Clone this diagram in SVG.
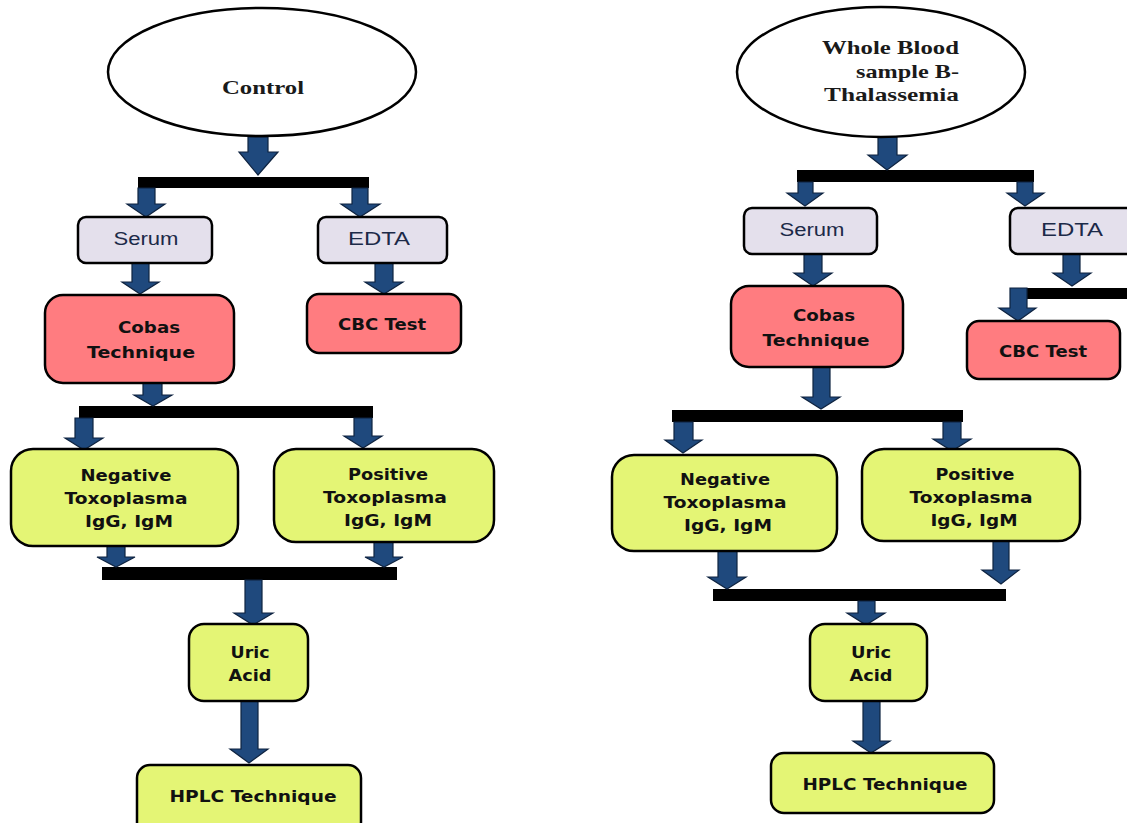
<svg xmlns="http://www.w3.org/2000/svg" width="1127" height="823" viewBox="0 0 1127 823">
<style>
.ell{fill:#fff;stroke:#000;stroke-width:2.5}
.box{stroke:#000;stroke-width:2.5}
.lav{fill:#e4e0ec}
.pink{fill:#ff7c80}
.yel{fill:#e4f575}
.arr{fill:#1f497d;stroke:#0e2340;stroke-width:1.2;stroke-linejoin:miter}
.bar{fill:#000}
.tt{font-family:"Liberation Serif","Times New Roman",serif;font-weight:bold;font-size:19px;fill:#1a1a1a}
.ts{font-family:"Liberation Sans",Arial,sans-serif;font-size:18px;fill:#1c2a48;text-anchor:middle}
.tb{font-family:"DejaVu Sans",Verdana,sans-serif;font-weight:bold;font-size:16px;fill:#111;text-anchor:middle}
</style>
<rect width="1127" height="823" fill="#fff"/>

<g id="connectors">
<!-- left column -->
<rect class="bar" x="138" y="177" width="231" height="11"/>
<rect class="bar" x="79" y="406" width="294" height="12"/>
<rect class="bar" x="102" y="567" width="295" height="13"/>
<path class="arr" d="M248 137H268V152H278L258 175L239 152H248Z"/>
<path class="arr" d="M138 188H155V204H165L146 217L127 204H138Z"/>
<path class="arr" d="M352 188H368V204H380L360 217L341 204H352Z"/>
<path class="arr" d="M132 263H149V282H159L140 294L122 282H132Z"/>
<path class="arr" d="M375 263H393V282H403L384 294L365 282H375Z"/>
<path class="arr" d="M143 383H162V395H172L153 406L134 395H143Z"/>
<path class="arr" d="M75 418H93V438H103L84 450L65 438H75Z"/>
<path class="arr" d="M354 418H372V436H382L363 448L344 436H354Z"/>
<path class="arr" d="M107 546H125V557H135L116 567L97 557H107Z"/>
<path class="arr" d="M374 542H393V557H403L384 567L365 557H374Z"/>
<path class="arr" d="M245 580H262V613H273L253 625L234 613H245Z"/>
<path class="arr" d="M241 701H258V749H268L249 763L230 749H241Z"/>
<!-- right column -->
<rect class="bar" x="797" y="170" width="237" height="12"/>
<rect class="bar" x="1010" y="288" width="120" height="11"/>
<rect class="bar" x="672" y="410" width="291" height="12"/>
<rect class="bar" x="713" y="589" width="293" height="12"/>
<path class="arr" d="M878 137H897V155H907L887 170L868 155H878Z"/>
<path class="arr" d="M798 182H813V193H823L805 206L787 193H798Z"/>
<path class="arr" d="M1017 182H1033V193H1044L1025 206L1007 193H1017Z"/>
<path class="arr" d="M804 254H822V273H832L813 286L794 273H804Z"/>
<path class="arr" d="M1063 254H1080V273H1091L1072 286L1053 273H1063Z"/>
<path class="arr" d="M1010 288H1027V308H1036L1018 321L999 308H1010Z"/>
<path class="arr" d="M813 367H830V397H840L821 409L802 397H813Z"/>
<path class="arr" d="M674 422H693V440H702L683 453L665 440H674Z"/>
<path class="arr" d="M943 422H961V439H971L952 451L933 439H943Z"/>
<path class="arr" d="M718 551H737V577H746L727 589L708 577H718Z"/>
<path class="arr" d="M993 541H1009V570H1019L1001 584L982 570H993Z"/>
<path class="arr" d="M858 601H875V613H885L866 625L847 613H858Z"/>
<path class="arr" d="M863 701H880V741H890L871 753L853 741H863Z"/>
</g>

<!-- left column nodes -->
<g id="control">
<ellipse class="ell" cx="262" cy="72" rx="154" ry="64"/>
<text class="tt" x="222" y="94" textLength="82" lengthAdjust="spacingAndGlyphs">Control</text>
</g>
<g id="serum-l">
<rect class="box lav" x="78" y="217" width="134" height="46" rx="8"/>
<text class="ts" x="146" y="245" textLength="65" lengthAdjust="spacingAndGlyphs">Serum</text>
</g>
<g id="edta-l">
<rect class="box lav" x="318" y="217" width="129" height="46" rx="8"/>
<text class="ts" x="379" y="245" textLength="62" lengthAdjust="spacingAndGlyphs">EDTA</text>
</g>
<g id="cobas-l">
<rect class="box pink" x="45" y="295" width="189" height="88" rx="18"/>
<text class="tb" x="149" y="333" textLength="62" lengthAdjust="spacingAndGlyphs">Cobas</text>
<text class="tb" x="141" y="358" textLength="108" lengthAdjust="spacingAndGlyphs">Technique</text>
</g>
<g id="cbc-l">
<rect class="box pink" x="307" y="294" width="154" height="59" rx="12"/>
<text class="tb" x="382" y="330" textLength="88" lengthAdjust="spacingAndGlyphs">CBC Test</text>
</g>
<g id="negative-l">
<rect class="box yel" x="11" y="449" width="227" height="97" rx="22"/>
<text class="tb" x="126" y="481" textLength="91" lengthAdjust="spacingAndGlyphs">Negative</text>
<text class="tb" x="126" y="504" textLength="123" lengthAdjust="spacingAndGlyphs">Toxoplasma</text>
<text class="tb" x="129" y="527" textLength="88" lengthAdjust="spacingAndGlyphs">IgG, IgM</text>
</g>
<g id="positive-l">
<rect class="box yel" x="274" y="449" width="220" height="93" rx="22"/>
<text class="tb" x="388" y="480" textLength="80" lengthAdjust="spacingAndGlyphs">Positive</text>
<text class="tb" x="385" y="503" textLength="124" lengthAdjust="spacingAndGlyphs">Toxoplasma</text>
<text class="tb" x="388" y="526" textLength="88" lengthAdjust="spacingAndGlyphs">IgG, IgM</text>
</g>
<g id="uric-l">
<rect class="box yel" x="189" y="624" width="119" height="77" rx="15"/>
<text class="tb" x="250" y="658" textLength="39" lengthAdjust="spacingAndGlyphs">Uric</text>
<text class="tb" x="250" y="681" textLength="43" lengthAdjust="spacingAndGlyphs">Acid</text>
</g>
<g id="hplc-l">
<rect class="box yel" x="137" y="765" width="224" height="70" rx="13"/>
<text class="tb" x="253" y="802" textLength="167" lengthAdjust="spacingAndGlyphs">HPLC Technique</text>
</g>

<!-- right column nodes -->
<g id="whole-blood">
<ellipse class="ell" cx="881" cy="72" rx="144" ry="65"/>
<text class="tt" x="959" y="54" text-anchor="end" textLength="137" lengthAdjust="spacingAndGlyphs">Whole Blood</text>
<text class="tt" x="959" y="78" text-anchor="end" textLength="103" lengthAdjust="spacingAndGlyphs">sample B-</text>
<text class="tt" x="959" y="101" text-anchor="end" textLength="135" lengthAdjust="spacingAndGlyphs">Thalassemia</text>
</g>
<g id="serum-r">
<rect class="box lav" x="744" y="208" width="133" height="46" rx="8"/>
<text class="ts" x="812" y="236" textLength="65" lengthAdjust="spacingAndGlyphs">Serum</text>
</g>
<g id="edta-r">
<rect class="box lav" x="1010" y="208" width="130" height="46" rx="8"/>
<text class="ts" x="1072" y="236" textLength="62" lengthAdjust="spacingAndGlyphs">EDTA</text>
</g>
<g id="cobas-r">
<rect class="box pink" x="731" y="286" width="172" height="81" rx="18"/>
<text class="tb" x="824" y="321" textLength="62" lengthAdjust="spacingAndGlyphs">Cobas</text>
<text class="tb" x="816" y="346" textLength="107" lengthAdjust="spacingAndGlyphs">Technique</text>
</g>
<g id="cbc-r">
<rect class="box pink" x="967" y="321" width="153" height="58" rx="12"/>
<text class="tb" x="1043" y="357" textLength="88" lengthAdjust="spacingAndGlyphs">CBC Test</text>
</g>
<g id="negative-r">
<rect class="box yel" x="612" y="455" width="225" height="96" rx="22"/>
<text class="tb" x="725" y="485" textLength="90" lengthAdjust="spacingAndGlyphs">Negative</text>
<text class="tb" x="725" y="508" textLength="123" lengthAdjust="spacingAndGlyphs">Toxoplasma</text>
<text class="tb" x="728" y="531" textLength="88" lengthAdjust="spacingAndGlyphs">IgG, IgM</text>
</g>
<g id="positive-r">
<rect class="box yel" x="862" y="449" width="218" height="92" rx="22"/>
<text class="tb" x="975" y="480" textLength="79" lengthAdjust="spacingAndGlyphs">Positive</text>
<text class="tb" x="971" y="503" textLength="123" lengthAdjust="spacingAndGlyphs">Toxoplasma</text>
<text class="tb" x="974" y="526" textLength="87" lengthAdjust="spacingAndGlyphs">IgG, IgM</text>
</g>
<g id="uric-r">
<rect class="box yel" x="810" y="624" width="117" height="77" rx="15"/>
<text class="tb" x="871" y="658" textLength="40" lengthAdjust="spacingAndGlyphs">Uric</text>
<text class="tb" x="871" y="681" textLength="43" lengthAdjust="spacingAndGlyphs">Acid</text>
</g>
<g id="hplc-r">
<rect class="box yel" x="771" y="753" width="223" height="60" rx="13"/>
<text class="tb" x="885" y="790" textLength="165" lengthAdjust="spacingAndGlyphs">HPLC Technique</text>
</g>
</svg>
